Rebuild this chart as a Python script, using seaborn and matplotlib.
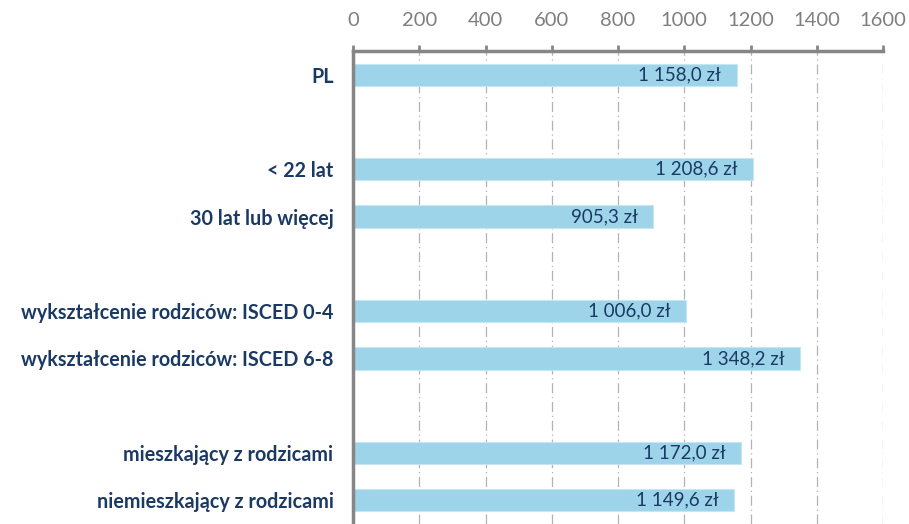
import matplotlib

matplotlib.use("Agg")
import matplotlib.pyplot as plt
import numpy as np
import pandas as pd
import seaborn as sns

# rows top to bottom; blank strings are the empty spacer rows
row_labels = [
    "PL",
    " ",
    "< 22 lat",
    "30 lat lub więcej",
    "  ",
    "wykształcenie rodziców: ISCED 0-4",
    "wykształcenie rodziców: ISCED 6-8",
    "   ",
    "mieszkający z rodzicami",
    "niemieszkający z rodzicami",
]
bar_labels = [
    "PL",
    "< 22 lat",
    "30 lat lub więcej",
    "wykształcenie rodziców: ISCED 0-4",
    "wykształcenie rodziców: ISCED 6-8",
    "mieszkający z rodzicami",
    "niemieszkający z rodzicami",
]
bar_values = [1158.0, 1208.6, 905.3, 1006.0, 1348.2, 1172.0, 1149.6]
x_ticks = [0, 200, 400, 600, 800, 1000, 1200, 1400, 1600]

BAR_COLOR = "#9dd4e9"
NAVY = "#1b3a63"
GREY = "#868686"


def fmt_pln(v: float) -> str:
    s = f"{v:,.1f}".replace(",", " ").replace(".", ",")
    return s + " zł"


df = pd.DataFrame({"label": bar_labels, "value": bar_values})

sns.set_theme(style="white")
plt.rcParams["font.family"] = ["Lato", "DejaVu Sans"]

fig = plt.figure(figsize=(9.09, 5.24), dpi=100)
ax = fig.add_axes([353 / 909, 0.0, 530 / 909, 1 - 51 / 524])

sns.barplot(
    data=df, x="value", y="label", order=row_labels, orient="h",
    color=BAR_COLOR, saturation=1, width=0.47, ax=ax,
    edgecolor="#c5e6f3", linewidth=0.8,
)

for patch, v in zip([p for p in ax.patches if np.isfinite(p.get_width())], bar_values):
    y = patch.get_y() + patch.get_height() / 2
    ax.annotate(fmt_pln(v), (patch.get_width(), y), xytext=(-11, 0),
                textcoords="offset points", ha="right", va="center",
                color=NAVY, fontsize=13.5)

ax.set_xlim(0, 1600)
ax.set_ylim(9.46, -0.5)
ax.set_xticks(x_ticks)
ax.xaxis.tick_top()
ax.tick_params(axis="x", which="major", direction="out", length=4, width=2,
               color=GREY, labelcolor="#7f7f7f", labelsize=14.5, pad=12)
ax.xaxis.grid(True, color="#b3b3b3", linestyle=(0, (8, 3, 1, 3)), linewidth=0.9)
ax.set_axisbelow(True)

# labels on the rows, small marks on the row boundaries
ax.set_yticks(range(len(row_labels)))
ax.set_yticklabels(row_labels, fontweight="bold", color=NAVY, fontsize=14.2)
ax.tick_params(axis="y", which="major", length=0, pad=14)
ax.set_yticks(np.arange(-0.5, len(row_labels), 1.0), minor=True)
ax.tick_params(axis="y", which="minor", direction="out", length=4, width=2, color=GREY)

ax.set_xlabel("")
ax.set_ylabel("")
for side in ["right", "bottom"]:
    ax.spines[side].set_visible(False)
for side in ["top", "left"]:
    ax.spines[side].set_color(GREY)
    ax.spines[side].set_linewidth(2.5)

fig.savefig("out.png", dpi=100)
